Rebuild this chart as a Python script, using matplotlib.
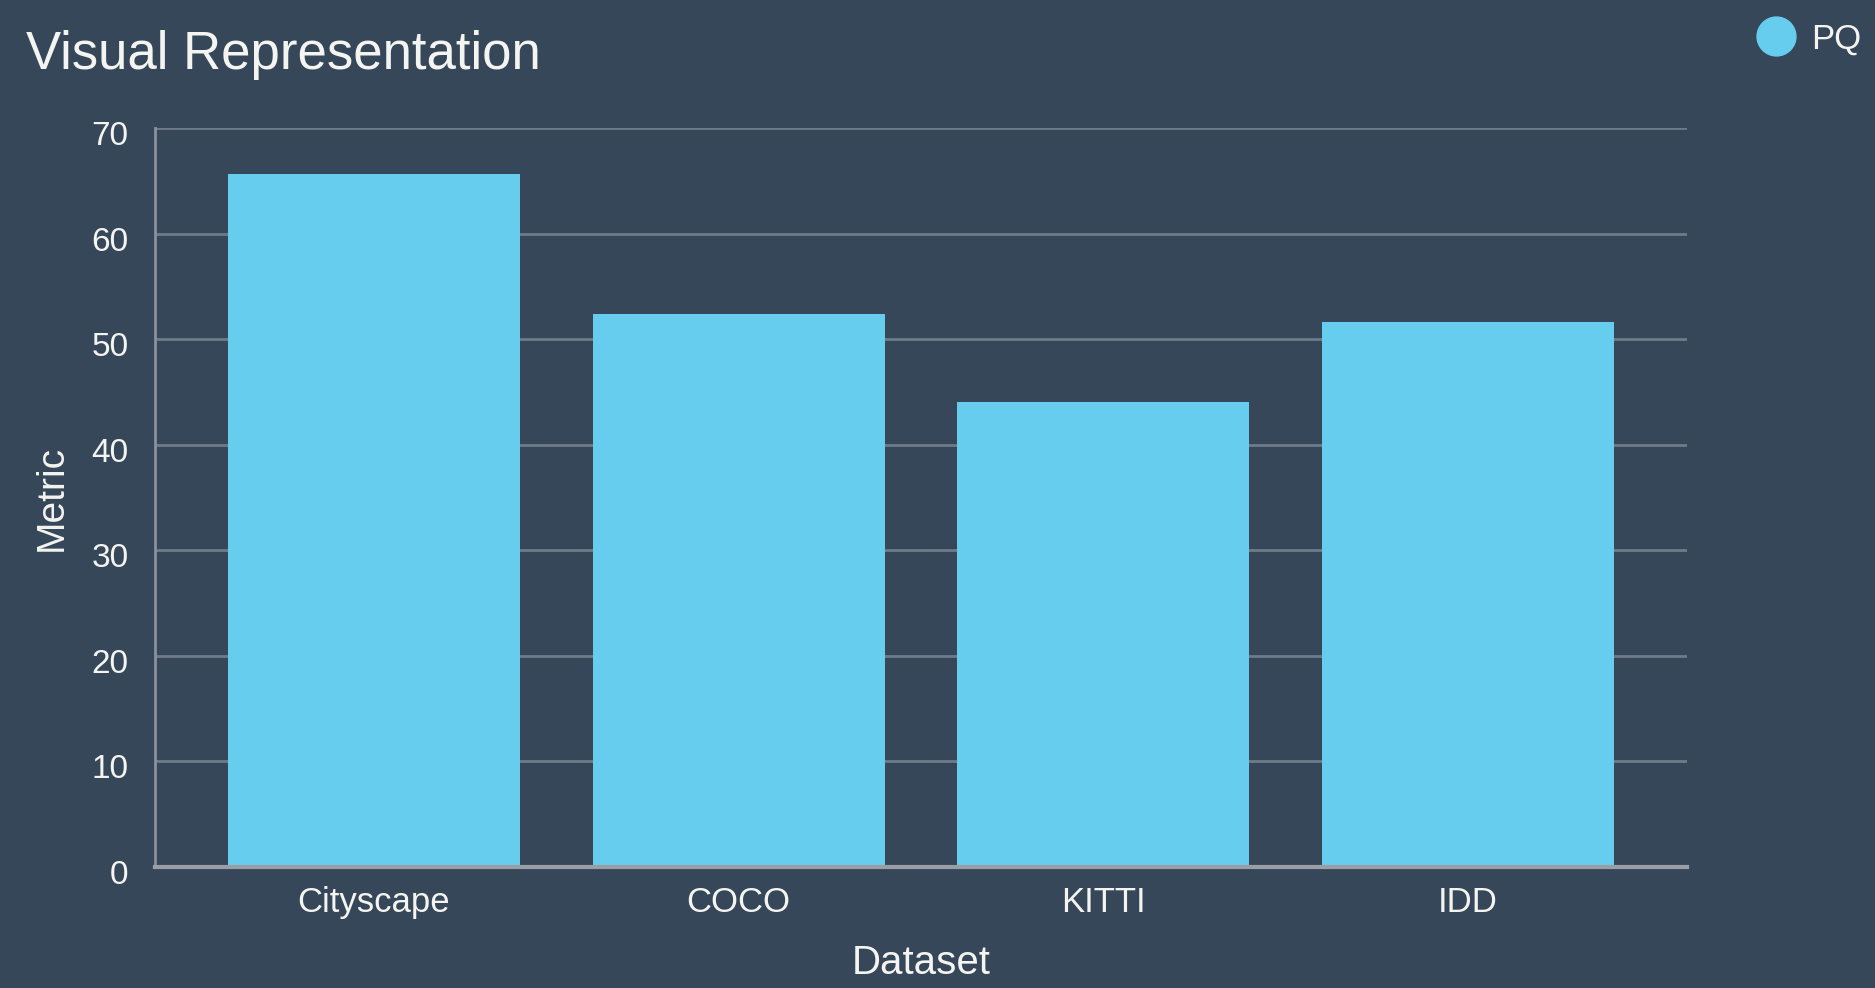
import matplotlib
matplotlib.use("Agg")
from matplotlib import pyplot as plt
from matplotlib.lines import Line2D
from matplotlib.transforms import ScaledTranslation

# chart data
datasets = ["Cityscape", "COCO", "KITTI", "IDD"]
pq_values = [65.6, 52.4, 44.0, 51.6]
y_ticks = [0, 10, 20, 30, 40, 50, 60, 70]

bg = "#36475a"
bar_color = "#67cdee"
text_color = "#f4f4f0"

plt.rcParams['font.family'] = ['Liberation Sans', 'DejaVu Sans']

fig = plt.figure(figsize=(18.75, 9.88), dpi=100, facecolor=bg)
ax = fig.add_axes([155 / 1875, 1 - 867 / 988, (1687 - 155) / 1875, (867 - 128) / 988])
ax.set_facecolor(bg)

x = range(len(datasets))
ax.bar(x, pq_values, width=0.8, color=bar_color, zorder=3, label="PQ")

ax.set_xlim(-0.6, 3.6)
ax.set_ylim(0, 70)
ax.set_yticks(y_ticks)
ax.set_xticks(list(x))
ax.set_xticklabels(datasets)
ax.grid(axis="y", color="#6f7b88", linewidth=2, zorder=1)
ax.tick_params(axis="y", length=0, labelsize=24, colors=text_color, pad=19)
ax.tick_params(axis="x", length=0, labelsize=25, colors=text_color, pad=14)
# y labels sit a little below their grid lines
shift = ScaledTranslation(0, -0.05, fig.dpi_scale_trans)
for lbl in ax.get_yticklabels():
    lbl.set_transform(lbl.get_transform() + shift)

for side in ["top", "right"]:
    ax.spines[side].set_visible(False)
ax.spines["left"].set_color("#8a929c")
ax.spines["left"].set_linewidth(2)
ax.spines["bottom"].set_color("#9a9fa6")
ax.spines["bottom"].set_linewidth(3)
ax.spines["bottom"].set_zorder(4)

ax.set_xlabel("Dataset", fontsize=29, color=text_color, labelpad=18)
ax.set_ylabel("Metric", fontsize=28, color=text_color, labelpad=16)

fig.text(26 / 1875, 1 - 69 / 988, "Visual Representation", fontsize=38,
         color=text_color, ha="left", va="baseline")

# legend with a round marker
handle = Line2D([], [], marker="o", linestyle="none", markersize=28,
                markerfacecolor=bar_color, markeredgecolor=bar_color)
fig.legend([handle], ["PQ"], loc="center right", bbox_to_anchor=(1.0, 1 - 39 / 988),
           frameon=False, fontsize=25, labelcolor=text_color,
           handletextpad=0.0, borderaxespad=0.0)

fig.savefig("out.png", dpi=100, facecolor=bg)
